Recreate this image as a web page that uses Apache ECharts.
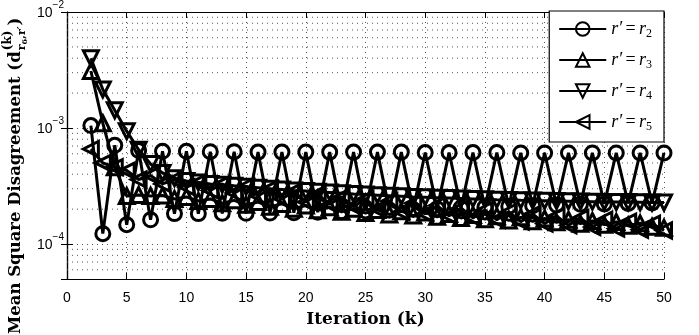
<!DOCTYPE html>
<html><head><meta charset="utf-8">
<script src="https://cdn.jsdelivr.net/npm/echarts@6/dist/echarts.min.js"></script>
<style>html,body{margin:0;padding:0;background:#fff}#c{width:699px;height:335px}</style>
</head><body><div id="c"></div>
<script>
const iterations = [2,3,4,5,6,7,8,9,10,11,12,13,14,15,16,17,18,19,20,21,22,23,24,25,26,27,28,29,30,31,32,33,34,35,36,37,38,39,40,41,42,43,44,45,46,47,48,49,50];
const seriesNames = ['r2','r3','r4','r5'];
const r2 = [1.05e-3,1.23e-4,7.1e-4,1.47e-4,6.4e-4,1.62e-4,6.3e-4,1.83e-4,6.3e-4,
  1.83e-4,6.25e-4,1.84e-4,6.25e-4,1.84e-4,6.2e-4,1.85e-4,6.2e-4,1.86e-4,6.2e-4,
  1.88e-4,6.2e-4,1.9e-4,6.2e-4,1.93e-4,6.2e-4,1.96e-4,6.2e-4,1.99e-4,6.15e-4,
  2.02e-4,6.15e-4,2.05e-4,6.15e-4,2.08e-4,6.15e-4,2.11e-4,6.1e-4,2.14e-4,6.1e-4,
  2.17e-4,6.1e-4,2.2e-4,6.1e-4,2.22e-4,6.1e-4,2.24e-4,6.1e-4,2.26e-4,6.1e-4];
const r3 = [3.1e-3,1.1e-3,4.6e-4,2.6e-4,2.65e-4,2.6e-4,2.62e-4,2.45e-4,2.55e-4,
  2.35e-4,2.45e-4,2.25e-4,2.38e-4,2.18e-4,2.3e-4,2.1e-4,2.22e-4,2.02e-4,2.15e-4,
  1.96e-4,2.08e-4,1.9e-4,2.02e-4,1.85e-4,1.97e-4,1.8e-4,1.92e-4,1.76e-4,1.87e-4,
  1.72e-4,1.82e-4,1.68e-4,1.78e-4,1.64e-4,1.74e-4,1.6e-4,1.7e-4,1.57e-4,1.66e-4,
  1.54e-4,1.62e-4,1.5e-4,1.58e-4,1.47e-4,1.55e-4,1.44e-4,1.51e-4,1.41e-4,1.38e-4];
const r4 = [4.0e-3,2.15e-3,1.42e-3,9.4e-4,6.5e-4,4.9e-4,4.1e-4,3.7e-4,3.5e-4,
  3.4e-4,3.3e-4,3.25e-4,3.18e-4,3.12e-4,3.06e-4,3.0e-4,2.95e-4,2.9e-4,2.86e-4,
  2.82e-4,2.78e-4,2.74e-4,2.7e-4,2.67e-4,2.64e-4,2.61e-4,2.58e-4,2.55e-4,2.53e-4,
  2.51e-4,2.49e-4,2.47e-4,2.45e-4,2.43e-4,2.41e-4,2.4e-4,2.38e-4,2.37e-4,2.36e-4,
  2.35e-4,2.34e-4,2.33e-4,2.32e-4,2.31e-4,2.3e-4,2.3e-4,2.29e-4,2.28e-4,2.28e-4];
const r5 = [6.6e-4,5.0e-4,4.6e-4,4.3e-4,3.6e-4,3.9e-4,3.3e-4,3.6e-4,3.1e-4,
  3.4e-4,2.9e-4,3.3e-4,2.75e-4,3.15e-4,2.6e-4,3.0e-4,2.45e-4,2.85e-4,2.3e-4,
  2.7e-4,2.2e-4,2.55e-4,2.1e-4,2.45e-4,2.0e-4,2.35e-4,1.9e-4,2.25e-4,1.82e-4,
  2.15e-4,1.75e-4,2.05e-4,1.68e-4,1.97e-4,1.62e-4,1.9e-4,1.56e-4,1.82e-4,1.5e-4,
  1.75e-4,1.45e-4,1.68e-4,1.4e-4,1.62e-4,1.36e-4,1.56e-4,1.33e-4,1.5e-4,1.31e-4];
const minorGridY = [6e-5,7e-5,8e-5,9e-5,2e-4,3e-4,4e-4,5e-4,6e-4,7e-4,8e-4,9e-4,2e-3,3e-3,4e-3,5e-3,6e-3,7e-3,8e-3,9e-3];
const xTickInterval = 5;

const chart = echarts.init(document.getElementById('c'), null, {renderer:'canvas'});
const pair = arr => iterations.map((k,i)=>[k, arr[i]]);
const dotted = {type:[1,4], color:'#555', width:1};

function mk(name, arr, symbol, rot, size){
  return {
    name, type:'line', data: pair(arr), symbol, symbolRotate: rot, symbolSize: size,
    lineStyle:{color:'#000', width:3},
    itemStyle:{color:'rgba(0,0,0,0)', borderColor:'#000', borderWidth:3},
    clip:false, z:3, emphasis:{disabled:true}, animation:false
  };
}

const ctx = document.createElement('canvas').getContext('2d');
function tw(font, s){ ctx.font = font; return ctx.measureText(s).width; }
const serif = '"DejaVu Serif"';
const mainFont = 'bold 16.5px ' + serif;
const mainText = 'Mean Square Disagreement (d';
const wMain = tw(mainFont, mainText);
const supFont = 'bold 12px ' + serif;
const subFont = 'bold 11px ' + serif;
const subSmall = 'bold 8px ' + serif;
const wSup = tw(supFont, '(k)');
const wR = tw(subFont, 'r');
const w6 = tw(subSmall, '6');
const wRest = tw(subFont, ',r′');
const wSub = wR + w6 + wRest;
const u0 = wMain + 1;

const titleGroup = {
  type:'group', x: 16, y: 334, rotation: Math.PI/2, silent:true,
  children:[
    {type:'text', x:0, y:0, style:{text:mainText, font:mainFont, fill:'#000', textAlign:'left', textVerticalAlign:'middle'}},
    {type:'text', x:u0, y:-8, style:{text:'(k)', font:supFont, fill:'#000', textAlign:'left', textVerticalAlign:'middle'}},
    {type:'text', x:u0, y:6, style:{text:'r', font:subFont, fill:'#000', textAlign:'left', textVerticalAlign:'middle'}},
    {type:'text', x:u0+wR, y:9, style:{text:'6', font:subSmall, fill:'#000', textAlign:'left', textVerticalAlign:'middle'}},
    {type:'text', x:u0+wR+w6, y:6, style:{text:',r′', font:subFont, fill:'#000', textAlign:'left', textVerticalAlign:'middle'}},
    {type:'text', x:u0+Math.max(wSup,wSub)+1, y:0, style:{text:')', font:mainFont, fill:'#000', textAlign:'left', textVerticalAlign:'middle'}}
  ]
};

const yLabelFmt = v => {
  const l = Math.log10(v); const e = Math.round(l);
  if (Math.abs(l - e) > 1e-6) return '';
  return '{b|10}{s|' + (e < 0 ? '−' : '') + Math.abs(e) + '}';
};

const option = {
  backgroundColor:'#fff',
  animation:false,
  grid:{left:67, right:35, top:11, bottom:56, containLabel:false},
  xAxis:[
    {type:'value', min:0, max:50, interval:xTickInterval, position:'bottom',
     axisLine:{onZero:false, lineStyle:{color:'#000', width:1.2}},
     axisTick:{inside:true, length:6, lineStyle:{color:'#000'}},
     axisLabel:{color:'#000', fontFamily:'Liberation Sans', fontSize:14, margin:12},
     splitLine:{show:true, lineStyle:dotted},
     name:'Iteration (k)', nameLocation:'middle', nameGap:32,
     nameTextStyle:{fontFamily:'DejaVu Serif', fontWeight:'bold', fontSize:17, color:'#000'}},
    {type:'value', min:0, max:50, interval:xTickInterval, position:'top',
     axisLine:{onZero:false, lineStyle:{color:'#000', width:1.2}},
     axisTick:{inside:true, length:6, lineStyle:{color:'#000'}},
     axisLabel:{show:false}, splitLine:{show:false}}
  ],
  yAxis:[
    {type:'log', logBase:10, min:5e-5, max:1e-2, position:'left',
     axisLine:{lineStyle:{color:'#000', width:1.2}},
     axisTick:{inside:true, length:6, lineStyle:{color:'#000'}},
     axisLabel:{color:'#000', margin:3, formatter:yLabelFmt,
       rich:{b:{fontFamily:'Liberation Sans', fontSize:14, lineHeight:16, verticalAlign:'bottom', color:'#000'},
             s:{fontFamily:'Liberation Sans', fontSize:10, lineHeight:12, padding:[0,0,10,0], verticalAlign:'bottom', color:'#000'}}},
     splitLine:{show:true, lineStyle:dotted}},
    {type:'log', logBase:10, min:5e-5, max:1e-2, position:'right',
     axisLine:{lineStyle:{color:'#000', width:1.2}},
     axisTick:{inside:true, length:6, lineStyle:{color:'#000'}},
     axisLabel:{show:false}, splitLine:{show:false}}
  ],
  legend:{
    data: seriesNames, orient:'vertical', right:35, top:11,
    backgroundColor:'#fff', borderColor:'#000', borderWidth:1.2,
    padding:[9,12,9,9], itemGap:11, itemWidth:47, itemHeight:17,
    formatter: n => '{i|r′} {e|=} {i|r}{d|' + n.slice(1) + '}',
    textStyle:{color:'#000',
      rich:{i:{fontFamily:'Liberation Serif', fontStyle:'italic', fontSize:18, lineHeight:18, verticalAlign:'top'},
            e:{fontFamily:'Liberation Serif', fontSize:18, lineHeight:18, verticalAlign:'top'},
            d:{fontFamily:'Liberation Serif', fontSize:12, lineHeight:12, padding:[8,0,0,0], verticalAlign:'top'}}},
    selectedMode:false
  },
  graphic:[titleGroup],
  series:[
    {type:'custom', name:'minorGrid', data: minorGridY.map(v=>[0, v]), z:1, silent:true, clip:false,
     animation:false, encode:{x:0, y:1},
     renderItem:(params, api) => {
       const cs = params.coordSys;
       const y = api.coord([0, api.value(1)])[1];
       return {type:'line', silent:true,
         shape:{x1: cs.x, y1: y, x2: cs.x + cs.width, y2: y},
         style:{stroke:'#555', lineWidth:1, lineDash:[1,4], fill:null}};
     }},
    mk('r2', r2, 'circle', 0, 14),
    mk('r3', r3, 'triangle', 0, 15),
    mk('r4', r4, 'triangle', 180, 15),
    mk('r5', r5, 'triangle', 90, 15)
  ]
};
chart.setOption(option);
</script>
</body></html>
